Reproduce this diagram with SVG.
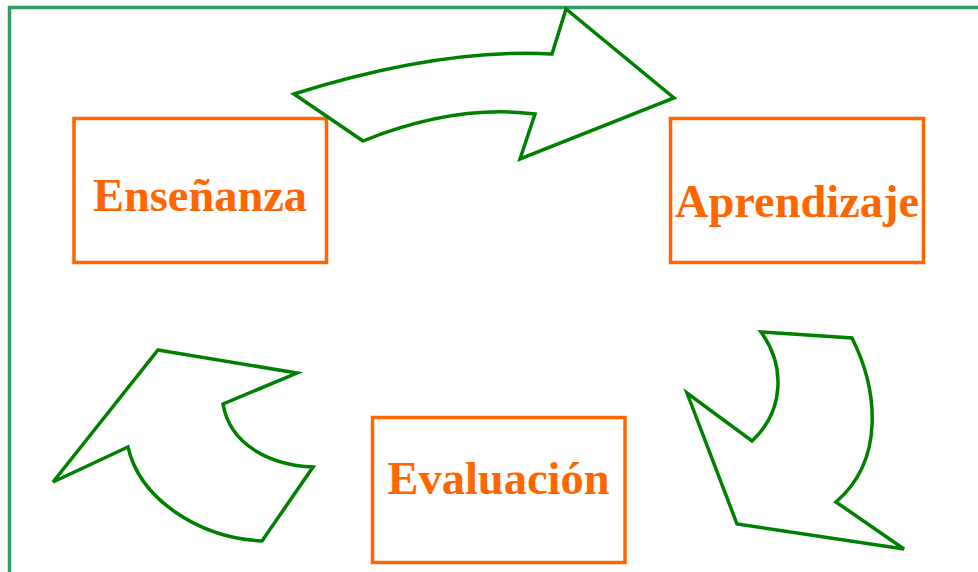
<svg xmlns="http://www.w3.org/2000/svg" width="978" height="572" viewBox="0 0 978 572">
  <style>
    .frame { fill: none; stroke: #339966; stroke-width: 3.5; }
    .box { fill: #ffffff; stroke: #ff6600; stroke-width: 3.5; }
    .label { font-family: "Liberation Serif", "Times New Roman", serif; font-weight: bold; font-size: 46px; fill: #ff6600; text-anchor: middle; }
    .arrow { fill: #ffffff; stroke: #008000; stroke-width: 3.5; stroke-linejoin: miter; }
  </style>
  <rect width="978" height="572" fill="#ffffff"/>
  <!-- outer frame: top and left edges -->
  <path class="frame" d="M9.5 572 V7.5 H978"/>

  <g id="ensenanza">
    <rect class="box" x="74" y="118.5" width="252.5" height="144"/>
    <text class="label" x="200" y="211" textLength="214" lengthAdjust="spacingAndGlyphs">Enseñanza</text>
  </g>
  <g id="aprendizaje">
    <rect class="box" x="670.5" y="118.5" width="253" height="144"/>
    <text class="label" x="797" y="217" textLength="244" lengthAdjust="spacingAndGlyphs">Aprendizaje</text>
  </g>
  <g id="evaluacion">
    <rect class="box" x="372.5" y="417.5" width="252.5" height="145"/>
    <text class="label" x="498.5" y="494" textLength="222" lengthAdjust="spacingAndGlyphs">Evaluación</text>
  </g>

  <g id="connectors">
    <!-- Enseñanza to Aprendizaje -->
    <path class="arrow" d="M294 94 Q440 48 552 54 L566 9 L674 98 L520 159 L535 114 Q455 104 363 141 Z"/>
    <!-- Aprendizaje to Evaluación -->
    <path class="arrow" d="M761 332 L852 338 C878 390 885 460 836 502 L904 549 L737 524 L687 393 L752 441 C785 410 785 365 761 332 Z"/>
    <!-- Evaluación to Enseñanza -->
    <path class="arrow" d="M158 350 L297 373 L223 404 C230 445 270 465 313 467 L262 541 C200 538 140 500 128 447 L53 482 Z"/>
  </g>
</svg>
